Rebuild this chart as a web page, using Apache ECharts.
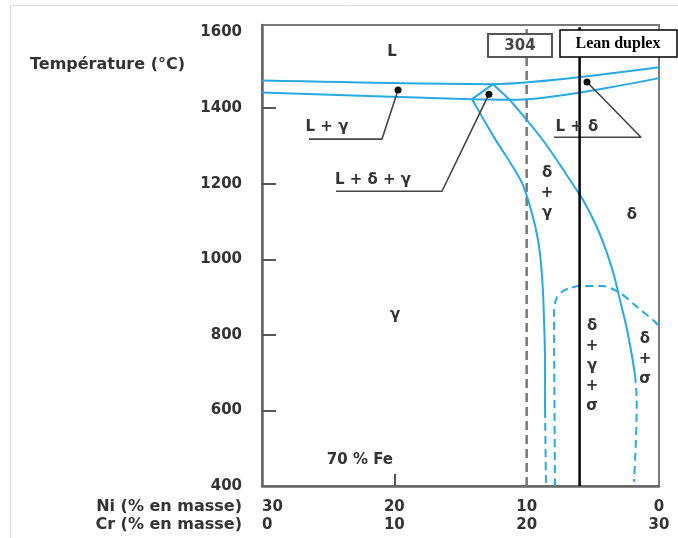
<!DOCTYPE html>
<html><head><meta charset="utf-8">
<script src="https://cdn.jsdelivr.net/npm/echarts@6/dist/echarts.min.js"></script>
<style>html,body{margin:0;padding:0;background:#fff}#c{width:678px;height:538px}</style>
</head><body><div id="c"></div>
<script>
// ---- data (Ni wt% on x, temperature °C on y) ----
const niTickLabels = [0, 10, 20, 30];
const tempTickLabels = [400, 600, 800, 1000, 1200, 1400, 1600];
const tempTickMarks = [600, 800, 1000, 1200, 1400];
const liquidus = [[30,1473],[12.54,1463.5],[0,1508]];
const solidus = [[30,1441.5],[14.13,1423.8],[10.73,1422.5],[0,1479.4]];
const triangleEdge = [[14.13,1423.8],[12.54,1463.5]];
const gammaBoundary = [[14.13,1423.8],[13.22,1368],[12.24,1310],[11.26,1257],[10.35,1202],[9.60,1122],[9.14,1051],[8.92,990],[8.77,918],[8.69,839],[8.61,733],[8.61,601]];
const gammaBoundaryDashed = [[8.61,601],[8.54,400]];
const deltaBoundary = [[12.54,1463.5],[11.26,1421],[9.98,1368],[8.77,1315],[7.71,1262],[6.73,1210],[5.74,1157],[4.76,1090],[4.01,1024],[3.40,958],[2.95,892],[2.49,826],[2.12,760],[1.81,694]];
const deltaBoundaryDashed = [[1.81,694],[1.68,627],[1.74,522],[1.89,411]];
const sigmaDome = [[7.86,400],[7.93,866],[7.71,900],[7.25,916],[6.73,924],[5.97,929],[4.23,929],[2.95,911],[1.66,874],[0.45,839],[0,823]];
const steel304 = [[10,400],[10,1620]];
const leanDuplex = [[6,400],[6,1614]];
const leaderLplusGamma = [[19.72,1448],[20.93,1318],[26.45,1318]];
const leaderLdeltaGamma = [[12.85,1437],[16.4,1180],[24.41,1180]];
const leaderLplusDelta = [[5.44,1469],[1.36,1323],[7.93,1323]];
const leaderDots = [[19.72,1448],[12.85,1437],[5.44,1469]];
const regionLabels = [
  {value:[20.18,1548], name:'L'},
  {value:[25.09,1350], name:'L + γ'},
  {value:[21.61,1210], name:'L + δ + γ'},
  {value:[6.2,1350], name:'L + δ'},
  {value:[2.04,1117], name:'δ'},
  {value:[19.95,852], name:'γ'},
  {value:[8.46,1175], name:'δ\n+\nγ'},
  {value:[5.06,717], name:'δ\n+\nγ\n+\nσ'},
  {value:[1.06,735], name:'δ\n+\nσ'},
  {value:[22.6,469], name:'70 % Fe'}
];

const BLUE = '#29a9e1';
const FONT = 'DejaVu Sans';
const TXT = '#333';

function blue(name, data, dashed) {
  return {type:'line', name, data, symbol:'none', smooth:0.25, z:3,
    lineStyle:{color:BLUE, width:2, type: dashed ? [8,5] : 'solid'}};
}
function leader(data){
  return {type:'line', data, symbol:'none', z:4, lineStyle:{color:'#444', width:1.6}};
}

const chart = echarts.init(document.getElementById('c'));
chart.setOption({
  animation:false,
  backgroundColor:'#fff',
  grid:{left:262, right:19, top:25, bottom:52, show:true, borderColor:'#7a7a7a', borderWidth:2},
  xAxis:{type:'value', min:0, max:30, inverse:true, interval:10,
    splitLine:{show:false},
    axisLine:{onZero:false, lineStyle:{color:'#666', width:2.5}},
    axisTick:{inside:true, length:12, customValues:[20], lineStyle:{color:'#555', width:2}},
    axisLabel:{customValues:niTickLabels, margin:12, alignMaxLabel:'left',
      fontFamily:FONT, fontWeight:'bold', fontSize:15, color:TXT, lineHeight:18,
      formatter:v => v + '\n' + (30 - v)}},
  yAxis:{type:'value', min:400, max:1620, interval:200,
    splitLine:{show:false},
    axisLine:{onZero:false, lineStyle:{color:'#666', width:2.5}},
    axisTick:{inside:true, length:14, customValues:tempTickMarks, lineStyle:{color:'#555', width:2}},
    axisLabel:{customValues:tempTickLabels, margin:20,
      fontFamily:FONT, fontWeight:'bold', fontSize:15, color:TXT,
      formatter:v => String(v)}},
  series:[
    {type:'line', data:steel304, symbol:'none', z:2, lineStyle:{color:'#777', width:2.5, type:[9,5]}},
    {type:'line', data:leanDuplex, symbol:'none', z:5, lineStyle:{color:'#000', width:2.5}},
    blue('liquidus', liquidus),
    blue('solidus', solidus),
    blue('edge', triangleEdge),
    blue('gamma', gammaBoundary),
    blue('gammaD', gammaBoundaryDashed, true),
    blue('delta', deltaBoundary),
    blue('deltaD', deltaBoundaryDashed, true),
    blue('sigma', sigmaDome, true),
    leader(leaderLplusGamma),
    leader(leaderLdeltaGamma),
    leader(leaderLplusDelta),
    {type:'scatter', data:leaderDots, symbolSize:7, z:6, itemStyle:{color:'#111', opacity:1}},
    {type:'scatter', data:regionLabels, symbolSize:0, z:7, itemStyle:{opacity:1},
      label:{show:true, position:'inside', formatter:p => p.name,
        fontFamily:FONT, fontWeight:'bold', fontSize:15, color:TXT, lineHeight:20, textBorderWidth:0}}
  ],
  graphic:[
    {type:'rect', z:0, silent:true, shape:{x:10.5, y:5.5, width:700, height:600}, style:{fill:null, stroke:'#dcdcdc', lineWidth:1}},
    {type:'text', z:100, style:{x:30, y:65, text:'Température (°C)', font:'bold 16px "DejaVu Sans"', fill:TXT, textVerticalAlign:'middle'}},
    {type:'text', z:100, style:{x:242, y:507, text:'Ni (% en masse)', font:'bold 16px "DejaVu Sans"', fill:TXT, textAlign:'right', textVerticalAlign:'middle'}},
    {type:'text', z:100, style:{x:242, y:525, text:'Cr (% en masse)', font:'bold 16px "DejaVu Sans"', fill:TXT, textAlign:'right', textVerticalAlign:'middle'}},
    {type:'rect', z:100, shape:{x:488, y:34, width:64, height:23}, style:{fill:'#fff', stroke:'#555', lineWidth:2}},
    {type:'text', z:101, style:{x:520, y:46, text:'304', font:'bold 15px "DejaVu Sans"', fill:'#444', textAlign:'center', textVerticalAlign:'middle'}},
    {type:'rect', z:100, shape:{x:560, y:30, width:117, height:27}, style:{fill:'#fff', stroke:'#000', lineWidth:1.5}},
    {type:'text', z:101, style:{x:618, y:44, text:'Lean duplex', font:'bold 16px "Liberation Serif"', fill:'#000', textAlign:'center', textVerticalAlign:'middle'}}
  ]
});
</script></body></html>
